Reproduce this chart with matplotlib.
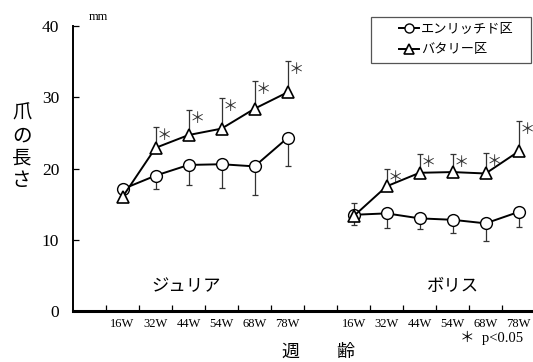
import numpy as np
import matplotlib
matplotlib.use('Agg')
import matplotlib.pyplot as plt
from matplotlib.patches import Rectangle

plt.rcParams['font.family'] = ['Liberation Serif', 'Noto Sans CJK JP', 'DejaVu Sans']

weeks = ['16W', '32W', '44W', '54W', '68W', '78W']

# ジュリア
julia_enr = [17.1, 19.0, 20.5, 20.6, 20.3, 24.3]
julia_enr_sd = [0.6, 1.9, 2.8, 3.4, 4.0, 4.0]
julia_bat = [16.0, 22.9, 24.7, 25.6, 28.4, 30.7]
julia_bat_sd = [0.5, 2.9, 3.5, 4.3, 3.9, 4.4]

# ボリス
boris_enr = [13.5, 13.7, 13.0, 12.8, 12.3, 13.9]
boris_enr_sd = [1.5, 2.0, 1.5, 1.8, 2.5, 2.1]
boris_bat = [13.3, 17.5, 19.4, 19.5, 19.3, 22.4]
boris_bat_sd = [1.9, 2.4, 2.6, 2.6, 2.9, 4.3]

fig = plt.figure(figsize=(5.33, 3.62), dpi=100)
ax = fig.add_axes([0.137, 0.141, 0.867, 0.787])

jx = np.arange(len(weeks)) + 1.5
bx = np.arange(len(weeks)) + 8.5
zeros = np.zeros(len(weeks))

handles = []
for x, enr, enr_sd, bat, bat_sd in [(jx, julia_enr, julia_enr_sd, julia_bat, julia_bat_sd),
                                     (bx, boris_enr, boris_enr_sd, boris_bat, boris_bat_sd)]:
    ax.errorbar(x, enr, yerr=[enr_sd, zeros], fmt='none', ecolor='#333333',
                elinewidth=0.9, capsize=2.5, capthick=0.9, zorder=2)
    ax.errorbar(x, bat, yerr=[zeros, bat_sd], fmt='none', ecolor='#333333',
                elinewidth=0.9, capsize=2.5, capthick=0.9, zorder=2)
    l1, = ax.plot(x, enr, '-o', color='black', lw=1.4, ms=8.5, mfc='white', mec='black',
                  mew=1.0, zorder=3)
    l2, = ax.plot(x, bat, '-^', color='black', lw=1.4, ms=9, mfc='white', mec='black',
                  mew=1.2, zorder=4)
    handles = [l1, l2]
    # 有意差マーク (16W以外)
    for xi, yi, si in list(zip(x, bat, bat_sd))[1:]:
        ax.text(xi + 0.02, yi + si - 1.2, '＊', fontsize=11, family='Noto Sans CJK JP',
                ha='left', va='center', color='#333333')

ax.set_xlim(0, 14)
ax.set_ylim(0, 40)
ax.set_yticks([0, 10, 20, 30, 40])
ax.set_xticks(np.arange(1, 14))
ax.set_xticklabels([])
ax.tick_params(axis='both', direction='in', length=4, width=0.9, labelsize=12.5)
ax.tick_params(axis='y', pad=10)
for s in ['top', 'right']:
    ax.spines[s].set_visible(False)
ax.spines['left'].set_linewidth(1.4)
ax.spines['bottom'].set_linewidth(2.2)

for i, w in enumerate(weeks):
    ax.text(jx[i], -1.9, w, ha='center', va='center', fontsize=9)
    ax.text(bx[i], -1.9, w, ha='center', va='center', fontsize=9)

ax.text(3.42, 3.5, 'ジュリア', ha='center', va='center', fontsize=12.5,
        family='Noto Sans CJK JP')
ax.text(11.5, 3.5, 'ボリス', ha='center', va='center', fontsize=12.5,
        family='Noto Sans CJK JP')

fig.text(98 / 533, 1 - 17 / 362, 'mm', ha='center', va='center', fontsize=9)
fig.text(22 / 533, 1 - 147 / 362, '爪\nの\n長\nさ', ha='center', va='center',
         fontsize=14, linespacing=1.1, family='Noto Sans CJK JP')
fig.text(290 / 533, 1 - 352 / 362, '週', ha='center', va='center', fontsize=13,
         family='Noto Sans CJK JP')
fig.text(345 / 533, 1 - 352 / 362, '齢', ha='center', va='center', fontsize=13,
         family='Noto Sans CJK JP')
fig.text(492 / 533, 1 - 338 / 362, '＊  p<0.05', ha='center', va='center', fontsize=10.5,
         family=['Liberation Serif', 'Noto Sans CJK JP'])

# 凡例の枠
fig.patches.append(Rectangle((371 / 533, 1 - 63 / 362), 160 / 533, 46 / 362,
                             transform=fig.transFigure, fill=False,
                             edgecolor='#555555', linewidth=0.9))
leg = fig.legend(handles=handles, labels=['エンリッチド区', 'バタリー区'],
                 loc='upper left', bbox_to_anchor=(399 / 533, 1 - 23 / 362),
                 frameon=False, handlelength=1.5,
                 prop={'family': 'Noto Sans CJK JP', 'size': 9.5},
                 borderpad=0, labelspacing=0.55, handletextpad=0.15,
                 borderaxespad=0)
for h in leg.legend_handles:
    h.set_markersize(6.5)

fig.savefig('out.png', dpi=100)
